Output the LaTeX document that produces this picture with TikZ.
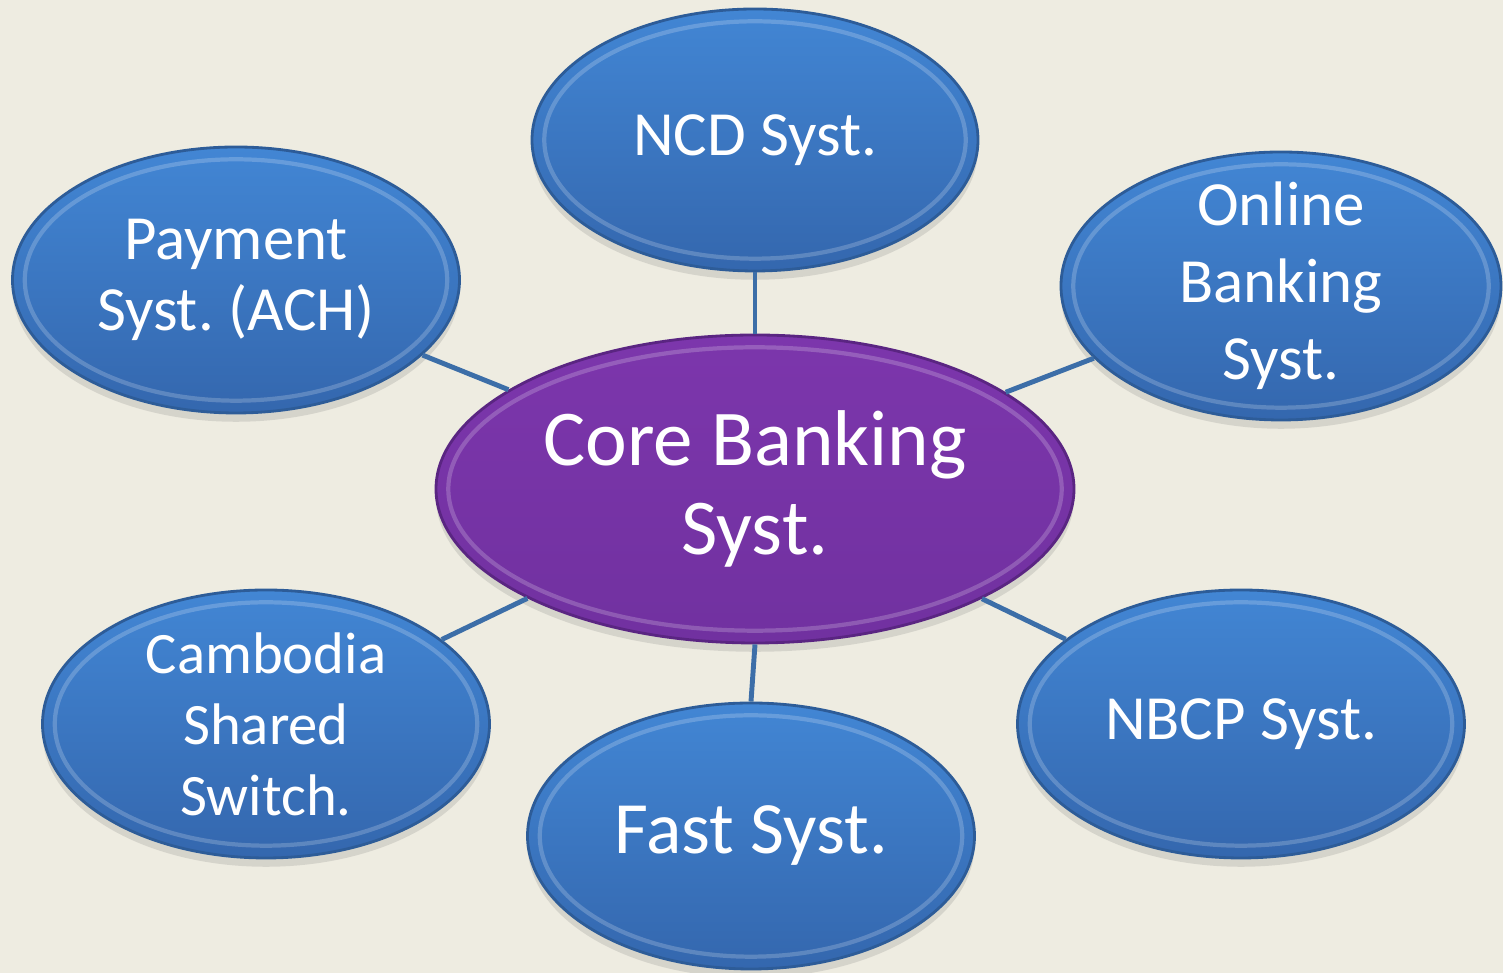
\documentclass[tikz,border=0pt]{standalone}
\usepackage{fontspec}
\setmainfont{Carlito}
\usetikzlibrary{shapes.geometric,shadows,calc}
\frenchspacing

\definecolor{paper}{HTML}{EEECE1}
\definecolor{bluetop}{HTML}{4286D4}
\definecolor{bluebot}{HTML}{3467AE}
\definecolor{blueedge}{HTML}{2D5C98}
\definecolor{purptop}{HTML}{7C36AC}
\definecolor{purpbot}{HTML}{7131A0}
\definecolor{purpedge}{HTML}{5A2582}
\definecolor{linkblue}{HTML}{3C6EA8}

\tikzset{
  bubble/.style={ellipse,inner xsep=0pt,inner ysep=-0.5cm,text=white,align=center,
    minimum width=4.47cm,minimum height=2.66cm,
    top color=bluetop,bottom color=bluebot,draw=blueedge,line width=0.8pt,
    drop shadow={opacity=0.22,shadow xshift=0pt,shadow yshift=-2.5pt},
    font={\fontsize{17.9}{20.2}\selectfont},
    path picture={\draw[white,opacity=0.2,line width=1.2pt]
      let \p1=($(path picture bounding box.north east)-(path picture bounding box.center)$) in
      (path picture bounding box.center) ellipse [x radius=\x1-3.5pt,y radius=\y1-3.5pt];}},
  hub/.style={bubble,minimum width=6.38cm,minimum height=3.08cm,
    top color=purptop,bottom color=purpbot,draw=purpedge,
    font={\fontsize{22.5}{25.3}\selectfont}},
  link/.style={draw=linkblue,line width=1.4pt}
}

\begin{document}
\begin{tikzpicture}
    \fill [paper] (0,0) rectangle (15.03,9.73);
    \useasboundingbox (0,0) rectangle (15.03,9.73);
    \node (core) [hub] at (7.55,4.84) {Core Banking\\Syst.};
    \node (ncd) [bubble,minimum width=4.46cm,minimum height=2.62cm] at (7.55,8.33) {NCD Syst.};
    \node (pay) [bubble] at (2.36,6.93) {Payment\\Syst. (ACH)};
    \node (online) [bubble,minimum width=4.40cm,minimum height=2.68cm,font={\fontsize{17.9}{21.9}\selectfont}] at (12.81,6.87) {Online\\Banking\\Syst.};
    \node (switch) [bubble,minimum height=2.68cm,font={\fontsize{16.7}{20.2}\selectfont}] at (2.66,2.49) {Cambodia\\Shared\\Switch.};
    \node (nbcp) [bubble,minimum height=2.68cm] at (12.41,2.49) {NBCP Syst.};
    \node (fast) [bubble,font={\fontsize{21}{22}\selectfont}] at (7.51,1.37) {Fast Syst.};
    \draw [link] (core) -- (ncd);
    \draw [link] (core) -- (pay);
    \draw [link] (core) -- (online);
    \draw [link] (core) -- (switch);
    \draw [link] (core) -- (nbcp);
    \draw [link] (core.south) -- (fast.north);
\end{tikzpicture}
\end{document}
